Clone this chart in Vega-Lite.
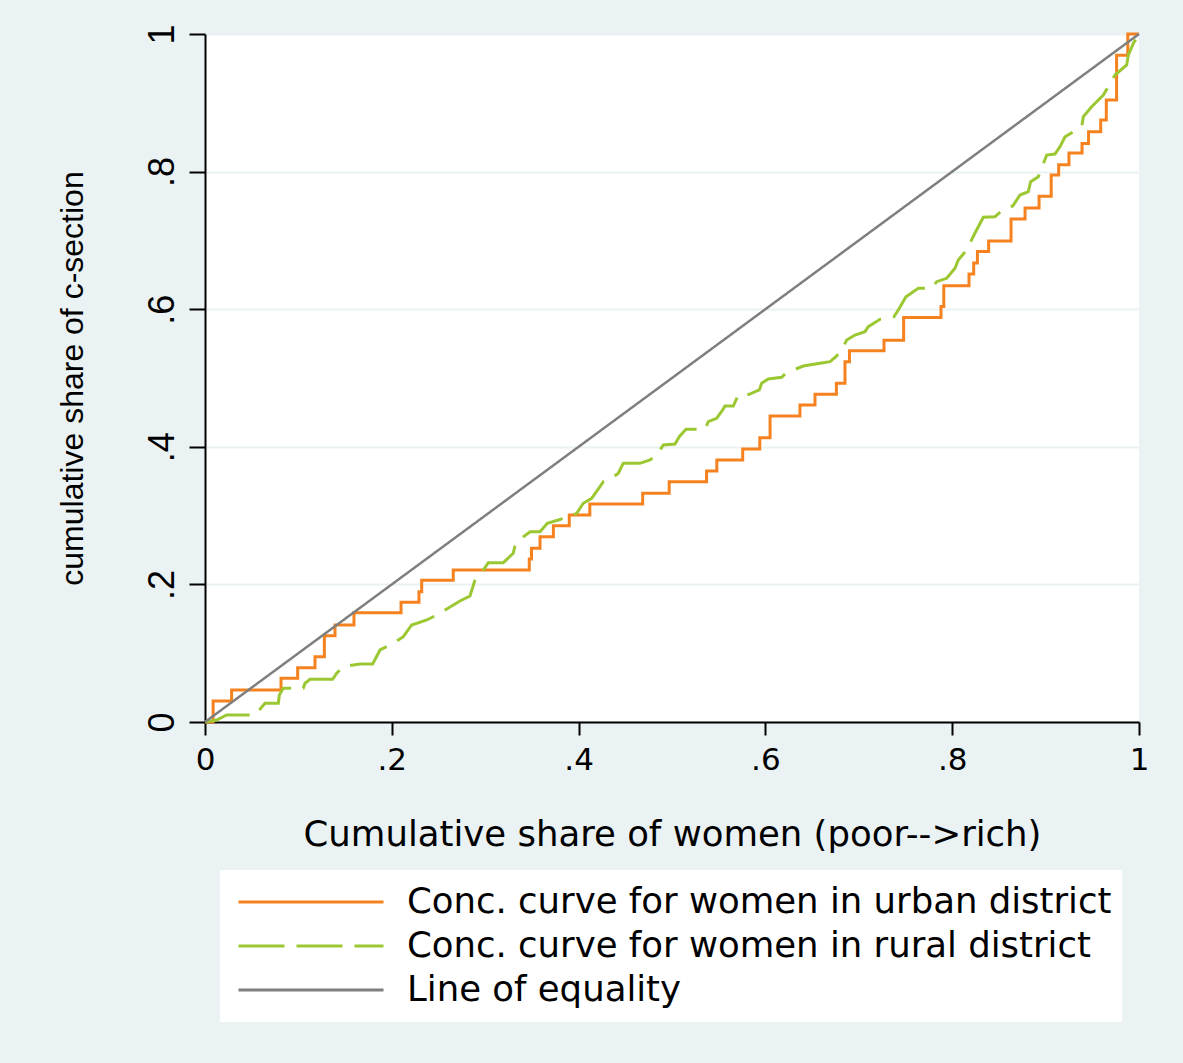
{
  "$schema": "https://vega.github.io/schema/vega-lite/v6.json",
  "width": 934,
  "height": 688,
  "autosize": {"type": "none"},
  "padding": {"left": 205, "top": 34, "right": 44, "bottom": 341},
  "background": "#EAF2F3",
  "config": {
    "view": {"fill": "white", "stroke": null},
    "axis": {"domainColor": "black", "domainWidth": 2, "tickColor": "black", "tickWidth": 2, "labelColor": "black", "titleColor": "black", "titleFontWeight": "normal"}
  },
  "datasets": {
    "urban": [
      {"x": 0, "y": 0, "series": "Conc. curve for women in urban district"},
      {"x": 0.0087, "y": 0.0305, "series": "Conc. curve for women in urban district"},
      {"x": 0.0285, "y": 0.0465, "series": "Conc. curve for women in urban district"},
      {"x": 0.0814, "y": 0.0635, "series": "Conc. curve for women in urban district"},
      {"x": 0.0992, "y": 0.0789, "series": "Conc. curve for women in urban district"},
      {"x": 0.1178, "y": 0.095, "series": "Conc. curve for women in urban district"},
      {"x": 0.1278, "y": 0.1255, "series": "Conc. curve for women in urban district"},
      {"x": 0.1392, "y": 0.141, "series": "Conc. curve for women in urban district"},
      {"x": 0.1595, "y": 0.1589, "series": "Conc. curve for women in urban district"},
      {"x": 0.2099, "y": 0.174, "series": "Conc. curve for women in urban district"},
      {"x": 0.2291, "y": 0.1894, "series": "Conc. curve for women in urban district"},
      {"x": 0.232, "y": 0.2062, "series": "Conc. curve for women in urban district"},
      {"x": 0.2658, "y": 0.2209, "series": "Conc. curve for women in urban district"},
      {"x": 0.3472, "y": 0.2369, "series": "Conc. curve for women in urban district"},
      {"x": 0.3496, "y": 0.2524, "series": "Conc. curve for women in urban district"},
      {"x": 0.3587, "y": 0.2694, "series": "Conc. curve for women in urban district"},
      {"x": 0.373, "y": 0.2854, "series": "Conc. curve for women in urban district"},
      {"x": 0.39, "y": 0.3009, "series": "Conc. curve for women in urban district"},
      {"x": 0.412, "y": 0.3169, "series": "Conc. curve for women in urban district"},
      {"x": 0.4686, "y": 0.3324, "series": "Conc. curve for women in urban district"},
      {"x": 0.497, "y": 0.3493, "series": "Conc. curve for women in urban district"},
      {"x": 0.537, "y": 0.3648, "series": "Conc. curve for women in urban district"},
      {"x": 0.548, "y": 0.3808, "series": "Conc. curve for women in urban district"},
      {"x": 0.5757, "y": 0.3968, "series": "Conc. curve for women in urban district"},
      {"x": 0.594, "y": 0.4132, "series": "Conc. curve for women in urban district"},
      {"x": 0.605, "y": 0.4448, "series": "Conc. curve for women in urban district"},
      {"x": 0.637, "y": 0.4608, "series": "Conc. curve for women in urban district"},
      {"x": 0.6531, "y": 0.4763, "series": "Conc. curve for women in urban district"},
      {"x": 0.676, "y": 0.4923, "series": "Conc. curve for women in urban district"},
      {"x": 0.6852, "y": 0.5237, "series": "Conc. curve for women in urban district"},
      {"x": 0.69, "y": 0.5397, "series": "Conc. curve for women in urban district"},
      {"x": 0.727, "y": 0.555, "series": "Conc. curve for women in urban district"},
      {"x": 0.748, "y": 0.588, "series": "Conc. curve for women in urban district"},
      {"x": 0.788, "y": 0.604, "series": "Conc. curve for women in urban district"},
      {"x": 0.791, "y": 0.634, "series": "Conc. curve for women in urban district"},
      {"x": 0.818, "y": 0.651, "series": "Conc. curve for women in urban district"},
      {"x": 0.823, "y": 0.667, "series": "Conc. curve for women in urban district"},
      {"x": 0.827, "y": 0.684, "series": "Conc. curve for women in urban district"},
      {"x": 0.839, "y": 0.699, "series": "Conc. curve for women in urban district"},
      {"x": 0.863, "y": 0.731, "series": "Conc. curve for women in urban district"},
      {"x": 0.878, "y": 0.747, "series": "Conc. curve for women in urban district"},
      {"x": 0.893, "y": 0.764, "series": "Conc. curve for women in urban district"},
      {"x": 0.906, "y": 0.795, "series": "Conc. curve for women in urban district"},
      {"x": 0.914, "y": 0.81, "series": "Conc. curve for women in urban district"},
      {"x": 0.925, "y": 0.827, "series": "Conc. curve for women in urban district"},
      {"x": 0.939, "y": 0.841, "series": "Conc. curve for women in urban district"},
      {"x": 0.946, "y": 0.858, "series": "Conc. curve for women in urban district"},
      {"x": 0.959, "y": 0.875, "series": "Conc. curve for women in urban district"},
      {"x": 0.965, "y": 0.904, "series": "Conc. curve for women in urban district"},
      {"x": 0.976, "y": 0.969, "series": "Conc. curve for women in urban district"},
      {"x": 0.988, "y": 1.0, "series": "Conc. curve for women in urban district"},
      {"x": 1.0, "y": 1.0, "series": "Conc. curve for women in urban district"}
    ],
    "rural": [
      {"x": 0, "y": 0, "series": "Conc. curve for women in rural district"},
      {"x": 0.0125, "y": 0.0029, "series": "Conc. curve for women in rural district"},
      {"x": 0.0232, "y": 0.0102, "series": "Conc. curve for women in rural district"},
      {"x": 0.0535, "y": 0.0102, "series": "Conc. curve for women in rural district"},
      {"x": 0.0642, "y": 0.0272, "series": "Conc. curve for women in rural district"},
      {"x": 0.0785, "y": 0.0272, "series": "Conc. curve for women in rural district"},
      {"x": 0.0796, "y": 0.0392, "series": "Conc. curve for women in rural district"},
      {"x": 0.0838, "y": 0.049, "series": "Conc. curve for women in rural district"},
      {"x": 0.1052, "y": 0.049, "series": "Conc. curve for women in rural district"},
      {"x": 0.1071, "y": 0.0563, "series": "Conc. curve for women in rural district"},
      {"x": 0.1124, "y": 0.062, "series": "Conc. curve for women in rural district"},
      {"x": 0.1367, "y": 0.062, "series": "Conc. curve for women in rural district"},
      {"x": 0.141, "y": 0.0708, "series": "Conc. curve for women in rural district"},
      {"x": 0.148, "y": 0.0804, "series": "Conc. curve for women in rural district"},
      {"x": 0.166, "y": 0.0843, "series": "Conc. curve for women in rural district"},
      {"x": 0.1795, "y": 0.0843, "series": "Conc. curve for women in rural district"},
      {"x": 0.1874, "y": 0.1047, "series": "Conc. curve for women in rural district"},
      {"x": 0.2016, "y": 0.1144, "series": "Conc. curve for women in rural district"},
      {"x": 0.2123, "y": 0.124, "series": "Conc. curve for women in rural district"},
      {"x": 0.2213, "y": 0.141, "series": "Conc. curve for women in rural district"},
      {"x": 0.2374, "y": 0.1483, "series": "Conc. curve for women in rural district"},
      {"x": 0.2481, "y": 0.1555, "series": "Conc. curve for women in rural district"},
      {"x": 0.257, "y": 0.1628, "series": "Conc. curve for women in rural district"},
      {"x": 0.273, "y": 0.1759, "series": "Conc. curve for women in rural district"},
      {"x": 0.2837, "y": 0.1831, "series": "Conc. curve for women in rural district"},
      {"x": 0.2891, "y": 0.2064, "series": "Conc. curve for women in rural district"},
      {"x": 0.298, "y": 0.2209, "series": "Conc. curve for women in rural district"},
      {"x": 0.3033, "y": 0.2316, "series": "Conc. curve for women in rural district"},
      {"x": 0.3194, "y": 0.2316, "series": "Conc. curve for women in rural district"},
      {"x": 0.33, "y": 0.2452, "series": "Conc. curve for women in rural district"},
      {"x": 0.3319, "y": 0.2558, "series": "Conc. curve for women in rural district"},
      {"x": 0.3373, "y": 0.2656, "series": "Conc. curve for women in rural district"},
      {"x": 0.348, "y": 0.2766, "series": "Conc. curve for women in rural district"},
      {"x": 0.3587, "y": 0.2766, "series": "Conc. curve for women in rural district"},
      {"x": 0.3665, "y": 0.2888, "series": "Conc. curve for women in rural district"},
      {"x": 0.3783, "y": 0.2936, "series": "Conc. curve for women in rural district"},
      {"x": 0.3908, "y": 0.2994, "series": "Conc. curve for women in rural district"},
      {"x": 0.398, "y": 0.3033, "series": "Conc. curve for women in rural district"},
      {"x": 0.405, "y": 0.3179, "series": "Conc. curve for women in rural district"},
      {"x": 0.414, "y": 0.3251, "series": "Conc. curve for women in rural district"},
      {"x": 0.4229, "y": 0.342, "series": "Conc. curve for women in rural district"},
      {"x": 0.4265, "y": 0.3493, "series": "Conc. curve for women in rural district"},
      {"x": 0.4354, "y": 0.3542, "series": "Conc. curve for women in rural district"},
      {"x": 0.4425, "y": 0.3615, "series": "Conc. curve for women in rural district"},
      {"x": 0.4478, "y": 0.376, "series": "Conc. curve for women in rural district"},
      {"x": 0.4657, "y": 0.376, "series": "Conc. curve for women in rural district"},
      {"x": 0.4764, "y": 0.3808, "series": "Conc. curve for women in rural district"},
      {"x": 0.4836, "y": 0.3881, "series": "Conc. curve for women in rural district"},
      {"x": 0.4907, "y": 0.4026, "series": "Conc. curve for women in rural district"},
      {"x": 0.5032, "y": 0.4041, "series": "Conc. curve for women in rural district"},
      {"x": 0.5078, "y": 0.4147, "series": "Conc. curve for women in rural district"},
      {"x": 0.515, "y": 0.4254, "series": "Conc. curve for women in rural district"},
      {"x": 0.5353, "y": 0.4254, "series": "Conc. curve for women in rural district"},
      {"x": 0.5389, "y": 0.4365, "series": "Conc. curve for women in rural district"},
      {"x": 0.5478, "y": 0.4414, "series": "Conc. curve for women in rural district"},
      {"x": 0.5543, "y": 0.4535, "series": "Conc. curve for women in rural district"},
      {"x": 0.5567, "y": 0.4593, "series": "Conc. curve for women in rural district"},
      {"x": 0.5656, "y": 0.4593, "series": "Conc. curve for women in rural district"},
      {"x": 0.571, "y": 0.4753, "series": "Conc. curve for women in rural district"},
      {"x": 0.5827, "y": 0.4763, "series": "Conc. curve for women in rural district"},
      {"x": 0.5935, "y": 0.4826, "series": "Conc. curve for women in rural district"},
      {"x": 0.596, "y": 0.4923, "series": "Conc. curve for women in rural district"},
      {"x": 0.6031, "y": 0.4985, "series": "Conc. curve for women in rural district"},
      {"x": 0.6175, "y": 0.501, "series": "Conc. curve for women in rural district"},
      {"x": 0.621, "y": 0.5058, "series": "Conc. curve for women in rural district"},
      {"x": 0.6299, "y": 0.5116, "series": "Conc. curve for women in rural district"},
      {"x": 0.6406, "y": 0.5174, "series": "Conc. curve for women in rural district"},
      {"x": 0.6584, "y": 0.5214, "series": "Conc. curve for women in rural district"},
      {"x": 0.6692, "y": 0.5237, "series": "Conc. curve for women in rural district"},
      {"x": 0.6756, "y": 0.531, "series": "Conc. curve for women in rural district"},
      {"x": 0.6817, "y": 0.5407, "series": "Conc. curve for women in rural district"},
      {"x": 0.687, "y": 0.5552, "series": "Conc. curve for women in rural district"},
      {"x": 0.6959, "y": 0.5625, "series": "Conc. curve for women in rural district"},
      {"x": 0.7066, "y": 0.5673, "series": "Conc. curve for women in rural district"},
      {"x": 0.7102, "y": 0.5746, "series": "Conc. curve for women in rural district"},
      {"x": 0.7227, "y": 0.5853, "series": "Conc. curve for women in rural district"},
      {"x": 0.7377, "y": 0.5891, "series": "Conc. curve for women in rural district"},
      {"x": 0.7434, "y": 0.6013, "series": "Conc. curve for women in rural district"},
      {"x": 0.7505, "y": 0.6182, "series": "Conc. curve for women in rural district"},
      {"x": 0.7637, "y": 0.6304, "series": "Conc. curve for women in rural district"},
      {"x": 0.7781, "y": 0.6304, "series": "Conc. curve for women in rural district"},
      {"x": 0.7834, "y": 0.64, "series": "Conc. curve for women in rural district"},
      {"x": 0.7941, "y": 0.6449, "series": "Conc. curve for women in rural district"},
      {"x": 0.803, "y": 0.6594, "series": "Conc. curve for women in rural district"},
      {"x": 0.8065, "y": 0.6715, "series": "Conc. curve for women in rural district"},
      {"x": 0.8155, "y": 0.686, "series": "Conc. curve for women in rural district"},
      {"x": 0.8233, "y": 0.7078, "series": "Conc. curve for women in rural district"},
      {"x": 0.828, "y": 0.7199, "series": "Conc. curve for women in rural district"},
      {"x": 0.8333, "y": 0.7336, "series": "Conc. curve for women in rural district"},
      {"x": 0.8458, "y": 0.7345, "series": "Conc. curve for women in rural district"},
      {"x": 0.854, "y": 0.7442, "series": "Conc. curve for women in rural district"},
      {"x": 0.8648, "y": 0.75, "series": "Conc. curve for women in rural district"},
      {"x": 0.8726, "y": 0.766, "series": "Conc. curve for women in rural district"},
      {"x": 0.8815, "y": 0.7708, "series": "Conc. curve for women in rural district"},
      {"x": 0.884, "y": 0.7853, "series": "Conc. curve for women in rural district"},
      {"x": 0.8922, "y": 0.7926, "series": "Conc. curve for women in rural district"},
      {"x": 0.9012, "y": 0.8241, "series": "Conc. curve for women in rural district"},
      {"x": 0.91, "y": 0.8256, "series": "Conc. curve for women in rural district"},
      {"x": 0.9154, "y": 0.8362, "series": "Conc. curve for women in rural district"},
      {"x": 0.9208, "y": 0.8507, "series": "Conc. curve for women in rural district"},
      {"x": 0.9387, "y": 0.8653, "series": "Conc. curve for women in rural district"},
      {"x": 0.9404, "y": 0.8798, "series": "Conc. curve for women in rural district"},
      {"x": 0.9493, "y": 0.8943, "series": "Conc. curve for women in rural district"},
      {"x": 0.9618, "y": 0.9113, "series": "Conc. curve for women in rural district"},
      {"x": 0.9661, "y": 0.9211, "series": "Conc. curve for women in rural district"},
      {"x": 0.9743, "y": 0.9404, "series": "Conc. curve for women in rural district"},
      {"x": 0.9868, "y": 0.955, "series": "Conc. curve for women in rural district"},
      {"x": 0.9886, "y": 0.9695, "series": "Conc. curve for women in rural district"},
      {"x": 0.9939, "y": 0.9864, "series": "Conc. curve for women in rural district"},
      {"x": 1.0, "y": 1.0, "series": "Conc. curve for women in rural district"}
    ],
    "equality": [
      {"x": 0, "y": 0, "series": "Line of equality"},
      {"x": 1, "y": 1, "series": "Line of equality"}
    ]
  },
  "encoding": {
    "x": {
      "field": "x", "type": "quantitative",
      "scale": {"domain": [0, 1], "nice": false},
      "axis": {
        "values": [0, 0.2, 0.4, 0.6, 0.8, 1],
        "labelExpr": "datum.value == 0 ? '0' : datum.value == 1 ? '1' : replace(format(datum.value, '.1f'), '0.', '.')",
        "grid": false, "tickSize": 13, "labelPadding": 10,
        "labelFont": "DejaVu Sans", "labelFontSize": 31, "labelFlush": false,
        "title": "Cumulative share of women (poor-->rich)",
        "titleFont": "DejaVu Sans", "titleFontSize": 35.5,
        "titleX": 467, "titleY": 123, "titleAlign": "center", "titleBaseline": "alphabetic"
      }
    },
    "y": {
      "field": "y", "type": "quantitative",
      "scale": {"domain": [0, 1], "nice": false},
      "axis": {
        "values": [0, 0.2, 0.4, 0.6, 0.8, 1],
        "labelExpr": "datum.value == 0 ? '0' : datum.value == 1 ? '1' : replace(format(datum.value, '.1f'), '0.', '.')",
        "grid": true, "gridColor": "#EAF2F3", "gridWidth": 2,
        "tickSize": 16, "labelPadding": 16,
        "labelAngle": 270, "labelAlign": "center", "labelBaseline": "alphabetic",
        "labelFont": "Liberation Sans", "labelFontSize": 36, "labelFlush": false,
        "title": "cumulative share of c-section",
        "titleFont": "Liberation Sans", "titleFontSize": 32,
        "titleAngle": 270, "titleX": -123, "titleY": 344, "titleAlign": "center", "titleBaseline": "alphabetic"
      }
    },
    "color": {
      "field": "series", "type": "nominal",
      "scale": {
        "domain": ["Conc. curve for women in urban district", "Conc. curve for women in rural district", "Line of equality"],
        "range": ["#F5821F", "#9BC832", "#7F7F7F"]
      },
      "legend": {
        "orient": "none", "legendX": 15, "legendY": 836, "title": null,
        "symbolType": "stroke", "symbolSize": 21025, "symbolStrokeWidth": 3,
        "labelFont": "DejaVu Sans", "labelFontSize": 35.5, "labelColor": "black", "labelLimit": 1000,
        "fillColor": "white", "padding": 10, "clipHeight": 44, "rowPadding": 0,
        "labelOffset": 22, "symbolOffset": 7
      }
    },
    "strokeDash": {
      "field": "series", "type": "nominal",
      "scale": {
        "domain": ["Conc. curve for women in urban district", "Conc. curve for women in rural district", "Line of equality"],
        "range": [[1, 0], [46, 12], [1, 0]]
      },
      "legend": {
        "orient": "none", "legendX": 15, "legendY": 836, "title": null,
        "symbolType": "stroke", "symbolSize": 21025, "symbolStrokeWidth": 3,
        "labelFont": "DejaVu Sans", "labelFontSize": 35.5, "labelColor": "black", "labelLimit": 1000,
        "fillColor": "white", "padding": 10, "clipHeight": 44, "rowPadding": 0,
        "labelOffset": 22, "symbolOffset": 7
      }
    }
  },
  "layer": [
    {
      "data": {"name": "urban"},
      "mark": {"type": "line", "interpolate": "step-after", "strokeWidth": 3}
    },
    {
      "data": {"name": "rural"},
      "mark": {"type": "line", "strokeWidth": 3}
    },
    {
      "data": {"name": "equality"},
      "mark": {"type": "line", "strokeWidth": 2.5}
    }
  ]
}
